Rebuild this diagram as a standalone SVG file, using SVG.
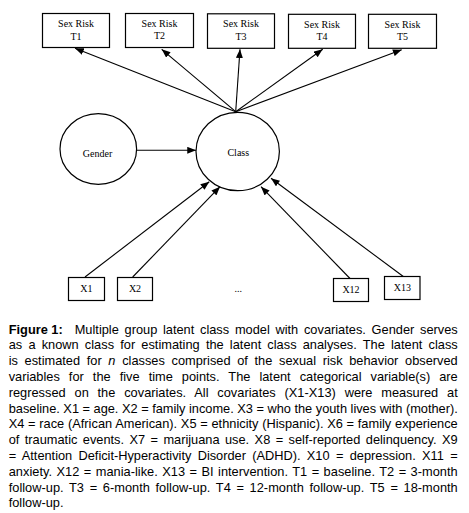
<svg xmlns="http://www.w3.org/2000/svg" width="469" height="513" viewBox="0 0 469 513">
<style>
.box{fill:#fff;stroke:#000;stroke-width:1.2}
.ell{fill:#fff;stroke:#000;stroke-width:1.2}
.lbl{font-family:"Liberation Serif","Times New Roman",serif;font-size:10px;fill:#000;text-anchor:middle}
.con{stroke:#000;stroke-width:1.1;fill:none;marker-end:url(#ah)}
.cap{font-family:"Liberation Sans",Arial,sans-serif;font-size:12.8px;fill:#000}
</style>
<defs>
<marker id="ah" markerUnits="userSpaceOnUse" viewBox="0 0 10 8" refX="10" refY="4" markerWidth="9" markerHeight="7" orient="auto">
<path d="M0,0 L10,4 L0,8 z" fill="#000"/>
</marker>
</defs>
<rect width="469" height="513" fill="#fff"/>
<g id="connectors">
<line class="con" x1="235.7" y1="111.7" x2="75" y2="48.3"/>
<line class="con" x1="235.7" y1="111.7" x2="161.7" y2="49.3"/>
<line class="con" x1="235.7" y1="111.7" x2="240" y2="49.3"/>
<line class="con" x1="235.7" y1="111.7" x2="322.7" y2="49.3"/>
<line class="con" x1="235.7" y1="111.7" x2="401.7" y2="49.8"/>
<line class="con" x1="136.7" y1="150.3" x2="196" y2="150.3"/>
<line class="con" x1="85" y1="277" x2="209.3" y2="181.7"/>
<line class="con" x1="132.7" y1="277" x2="220" y2="186.7"/>
<line class="con" x1="350" y1="278.5" x2="261" y2="186.7"/>
<line class="con" x1="403.3" y1="276.5" x2="271" y2="178.3"/>
</g>
<g id="t1"><rect class="box" x="42.5" y="13.5" width="67" height="34"/><text class="lbl" x="76" y="26.8">Sex Risk</text><text class="lbl" x="76" y="39.5">T1</text></g>
<g id="t2"><rect class="box" x="125.5" y="13.5" width="68" height="34"/><text class="lbl" x="159.5" y="26.8">Sex Risk</text><text class="lbl" x="159.5" y="39">T2</text></g>
<g id="t3"><rect class="box" x="207.5" y="13.8" width="67" height="34.5"/><text class="lbl" x="241" y="27">Sex Risk</text><text class="lbl" x="241" y="39.5">T3</text></g>
<g id="t4"><rect class="box" x="288.5" y="14.3" width="67" height="34"/><text class="lbl" x="322" y="27.5">Sex Risk</text><text class="lbl" x="322" y="40">T4</text></g>
<g id="t5"><rect class="box" x="368.5" y="14.3" width="68" height="34"/><text class="lbl" x="402.5" y="27.5">Sex Risk</text><text class="lbl" x="402.5" y="40">T5</text></g>
<g id="gender"><ellipse class="ell" cx="98.3" cy="149" rx="38.3" ry="35.3"/><text class="lbl" x="97.5" y="157">Gender</text></g>
<g id="class"><ellipse class="ell" cx="237.7" cy="151.5" rx="41.7" ry="39.2"/><text class="lbl" x="238.3" y="156">Class</text></g>
<g id="x1"><rect class="box" x="68.5" y="277.5" width="36" height="23"/><text class="lbl" x="86.3" y="291.5">X1</text></g>
<g id="x2"><rect class="box" x="117.5" y="277.5" width="35" height="23"/><text class="lbl" x="135" y="291.5">X2</text></g>
<g id="dots"><text class="lbl" x="238.3" y="292">...</text></g>
<g id="x12"><rect class="box" x="333.5" y="278.5" width="35" height="23"/><text class="lbl" x="351" y="292.5">X12</text></g>
<g id="x13"><rect class="box" x="384.5" y="276.5" width="35.5" height="23"/><text class="lbl" x="402.3" y="290.5">X13</text></g>
<g id="caption">
<text class="cap" x="8.7" y="333.5" font-weight="bold">Figure 1:</text>
<text class="cap" x="74.7" y="333.5" word-spacing="2.17" textLength="383" lengthAdjust="spacing">Multiple group latent class model with covariates. Gender serves</text>
<text class="cap" x="8.7" y="349.3" word-spacing="2.6" textLength="449" lengthAdjust="spacing">as a known class for estimating the latent class analyses. The latent class</text>
<text class="cap" x="8.7" y="365.1" word-spacing="3.1" textLength="449" lengthAdjust="spacing">is estimated for <tspan font-style="italic">n</tspan> classes comprised of the sexual risk behavior observed</text>
<text class="cap" x="8.7" y="380.9" word-spacing="5.55" textLength="449" lengthAdjust="spacing">variables for the five time points. The latent categorical variable(s) are</text>
<text class="cap" x="8.7" y="396.7" word-spacing="5.23" textLength="449" lengthAdjust="spacing">regressed on the covariates. All covariates (X1-X13) were measured at</text>
<text class="cap" x="8.7" y="412.5" textLength="449" lengthAdjust="spacing">baseline. X1 = age. X2 = family income. X3 = who the youth lives with (mother).</text>
<text class="cap" x="8.7" y="428.3" word-spacing="0.16" textLength="449" lengthAdjust="spacing">X4 = race (African American). X5 = ethnicity (Hispanic). X6 = family experience</text>
<text class="cap" x="8.7" y="444.1" word-spacing="1.87" textLength="449" lengthAdjust="spacing">of traumatic events. X7 = marijuana use. X8 = self-reported delinquency. X9</text>
<text class="cap" x="8.7" y="459.9" word-spacing="2.79" textLength="449" lengthAdjust="spacing">= Attention Deficit-Hyperactivity Disorder (ADHD). X10 = depression. X11 =</text>
<text class="cap" x="8.7" y="475.7" word-spacing="0.88" textLength="449" lengthAdjust="spacing">anxiety. X12 = mania-like. X13 = BI intervention. T1 = baseline. T2 = 3-month</text>
<text class="cap" x="8.7" y="491.5" word-spacing="2.1" textLength="449" lengthAdjust="spacing">follow-up. T3 = 6-month follow-up. T4 = 12-month follow-up. T5 = 18-month</text>
<text class="cap" x="8.7" y="507.3">follow-up.</text>
</g>
</svg>
